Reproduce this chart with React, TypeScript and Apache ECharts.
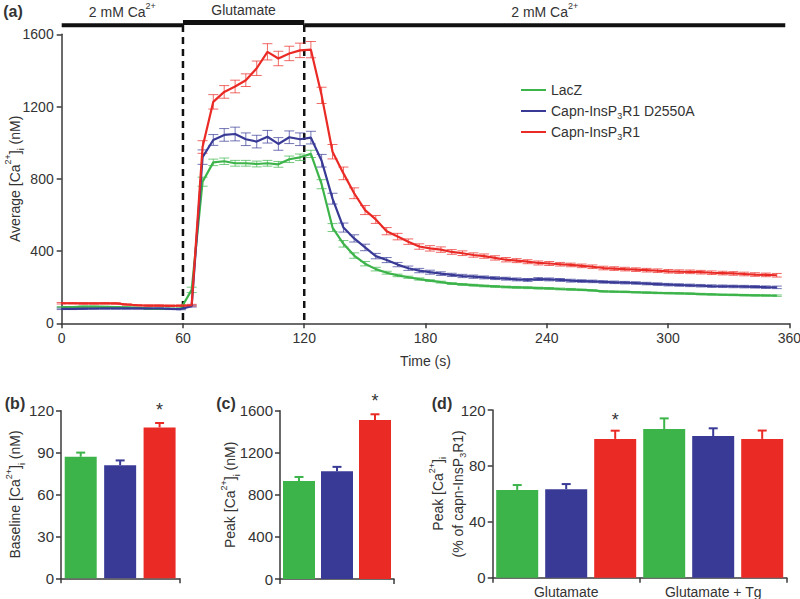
import React, { useEffect, useRef } from 'react';
import * as echarts from 'echarts';

// ---------- data ----------
const time = [0, 5.4, 10.7, 16.1, 21.4, 26.8, 32.2, 37.5, 42.9, 48.2, 53.6, 59.0, 64.3, 69.7, 75.0, 80.4, 85.8, 91.1, 96.5, 101.8, 107.2, 112.6, 117.9, 123.3, 128.6, 134.0, 139.4, 144.7, 150.1, 155.4, 160.8, 166.2, 171.5, 176.9, 182.2, 187.6, 193.0, 198.3, 203.7, 209.0, 214.4, 219.8, 225.1, 230.5, 235.8, 241.2, 246.6, 251.9, 257.3, 262.6, 268.0, 273.4, 278.7, 284.1, 289.4, 294.8, 300.2, 305.5, 310.9, 316.2, 321.6, 327.0, 332.3, 337.7, 343.0, 348.4, 353.8];

const lacz = [90, 90, 92, 92, 91, 90, 88, 86, 81, 80, 80, 82,
  185, 784, 891, 897, 886, 886, 882, 886, 880, 908, 919, 938,
  770, 530, 440, 375, 330, 300, 280, 265, 255, 245, 236, 228,
  220, 215, 211, 207, 204, 201, 199, 197, 195, 193, 190, 188,
  185, 182, 177, 175, 174, 172, 170, 168, 167, 166, 164, 162,
  160, 158, 157, 156, 155, 154, 153];
const laczErr = [3, 3, 3, 3, 3, 3, 3, 3, 3, 3, 3, 3,
  15, 25, 18, 18, 16, 16, 16, 16, 16, 18, 18, 20,
  25, 22, 18, 15, 12, 10, 8, 7, 6, 6, 5, 5,
  5, 5, 5, 5, 5, 5, 5, 5, 5, 5, 5, 5,
  4, 4, 4, 4, 4, 4, 4, 4, 4, 4, 4, 4,
  4, 4, 4, 4, 4, 4, 4];

const d2550a = [80, 80, 81, 82, 83, 83, 83, 83, 82, 82, 80, 79,
  95, 920, 1015, 1043, 1048, 1019, 1006, 1033, 993, 1030, 1019, 1028,
  900, 690, 530, 470, 420, 372, 350, 325, 305, 292, 283, 275,
  268, 262, 258, 254, 250, 247, 243, 240, 245, 243, 240, 236,
  234, 232, 229, 227, 225, 223, 220, 217, 214, 212, 210, 208,
  206, 205, 204, 203, 202, 200, 199];
const d2550aErr = [4, 4, 4, 4, 4, 4, 4, 4, 4, 4, 4, 4,
  5, 40, 30, 35, 38, 35, 35, 35, 35, 35, 35, 35,
  35, 30, 25, 20, 18, 15, 14, 12, 12, 12, 11, 10,
  9, 9, 9, 8, 8, 8, 8, 8, 8, 8, 8, 8,
  7, 7, 7, 7, 7, 7, 7, 7, 7, 7, 7, 7,
  7, 7, 7, 7, 7, 7, 7];

const insp3r1 = [111, 111, 110, 110, 111, 110, 104, 100, 98, 98, 97, 98,
  100, 976, 1226, 1281, 1311, 1346, 1412, 1503, 1466, 1494, 1511, 1515,
  1262, 950, 830, 720, 627, 575, 510, 480, 452, 425, 415, 408,
  395, 388, 378, 372, 362, 352, 347, 341, 334, 331, 327, 323,
  318, 313, 306, 303, 300, 297, 294, 291, 288, 286, 285, 283,
  280, 278, 276, 273, 270, 268, 266];
const insp3r1Err = [4, 4, 4, 4, 4, 4, 4, 4, 4, 4, 4, 4,
  5, 35, 40, 35, 35, 35, 40, 45, 40, 40, 40, 45,
  45, 40, 35, 30, 25, 22, 20, 18, 15, 15, 15, 15,
  13, 13, 12, 12, 12, 12, 11, 11, 11, 11, 10, 10,
  10, 10, 10, 10, 10, 10, 10, 10, 10, 10, 10, 10,
  10, 10, 10, 10, 10, 10, 10];

const seriesNames = ['LacZ', 'Capn-InsP3R1 D2550A', 'Capn-InsP3R1'];

const baselineVals = [87, 81, 108];
const baselineErr = [3, 3.4, 3.2];
const peakVals = [932, 1024, 1511];
const peakErr = [38, 42, 55];
const pctGroups = ['Glutamate', 'Glutamate + Tg'];
const pctVals = [62.8, 63.3, 99.3, 106.4, 101.4, 99.3];
const pctErr = [3.5, 3.7, 5.9, 7.6, 5.5, 6];

const xTicksA = { min: 0, max: 360, interval: 60 };

// ---------- style ----------
const FONT = '"Liberation Sans", Arial, Helvetica, sans-serif';
const TXT = '#333333';
const AX = '#3a3a3a';
const GREEN = '#3cb44a';
const BLUE = '#383a96';
const RED = '#ea2a25';
const COLORS = [GREEN, BLUE, RED];

const richOpt = {
  sup: { fontSize: 9, lineHeight: 8, verticalAlign: 'top', color: TXT, fontFamily: FONT },
  sub: { fontSize: 9, lineHeight: 8, verticalAlign: 'bottom', color: TXT, fontFamily: FONT },
};
const richZr = {
  sup: { fontSize: 9, lineHeight: 8, verticalAlign: 'top', fill: TXT, fontFamily: FONT },
  sub: { fontSize: 9, lineHeight: 8, verticalAlign: 'bottom', fill: TXT, fontFamily: FONT },
};

const axisLine = { show: true, lineStyle: { color: AX, width: 1.5 } };
const axisTick = { show: true, length: 5, inside: false, lineStyle: { color: AX, width: 1.5 } };
const plain = (v: number) => String(v);

function errRenderer(color: string, capHalf: number, lw: number, twoSided: boolean) {
  return (params: any, api: any) => {
    const x = api.value(0);
    const y = api.value(1);
    const e = api.value(2);
    const lo = api.coord([x, twoSided ? y - e : y]);
    const hi = api.coord([x, y + e]);
    const style = { stroke: color, lineWidth: lw };
    const children: any[] = [
      { type: 'line', shape: { x1: lo[0], y1: lo[1], x2: hi[0], y2: hi[1] }, style },
      { type: 'line', shape: { x1: hi[0] - capHalf, y1: hi[1], x2: hi[0] + capHalf, y2: hi[1] }, style },
    ];
    if (twoSided) {
      children.push({ type: 'line', shape: { x1: lo[0] - capHalf, y1: lo[1], x2: lo[0] + capHalf, y2: lo[1] }, style });
    }
    return { type: 'group', children };
  };
}

function buildOption() {
  const lines = [lacz, d2550a, insp3r1];
  const errs = [laczErr, d2550aErr, insp3r1Err];
  const series: any[] = [];
  lines.forEach((vals, si) => {
    series.push({
      type: 'custom',
      xAxisIndex: 0,
      yAxisIndex: 0,
      silent: true,
      z: 2,
      renderItem: errRenderer(echarts.color.modifyAlpha(COLORS[si], 0.7), 5, 1, true),
      encode: { x: 0, y: 1 },
      data: time.map((t, i) => [t, vals[i], errs[si][i]]),
    });
  });
  lines.forEach((vals, si) => {
    series.push({
      type: 'line',
      name: seriesNames[si],
      xAxisIndex: 0,
      yAxisIndex: 0,
      color: COLORS[si],
      symbol: 'none',
      z: 3,
      lineStyle: { width: 2.2, color: COLORS[si] },
      data: time.map((t, i) => [t, vals[i]]),
    });
  });

  const barPanels = [
    { axis: 1, vals: baselineVals, errs: baselineErr, width: 32 },
    { axis: 2, vals: peakVals, errs: peakErr, width: 32 },
    { axis: 3, vals: pctVals, errs: pctErr, width: 42 },
  ];
  barPanels.forEach((p) => {
    series.push({
      type: 'bar',
      xAxisIndex: p.axis,
      yAxisIndex: p.axis,
      barWidth: p.width,
      data: p.vals.map((v, i) => ({ value: [i + 0.5, v], itemStyle: { color: COLORS[i % 3] } })),
    });
    p.vals.forEach((v, i) => {
      series.push({
        type: 'custom',
        xAxisIndex: p.axis,
        yAxisIndex: p.axis,
        silent: true,
        z: 3,
        renderItem: errRenderer(COLORS[i % 3], 4.5, 2, false),
        encode: { x: 0, y: 1 },
        data: [[i + 0.5, v, p.errs[i]]],
      });
    });
  });

  const nameStyle = { fontSize: 14, lineHeight: 22, color: TXT, fontFamily: FONT, rich: richOpt };
  const labelA = { fontSize: 14, color: TXT, fontFamily: FONT, margin: 8, formatter: plain };
  const labelB = { fontSize: 15, color: TXT, fontFamily: FONT, margin: 7, formatter: plain };

  return {
    animation: false,
    backgroundColor: '#ffffff',
    textStyle: { fontFamily: FONT },
    grid: [
      { left: 61.7, top: 34.3, width: 727.6, height: 289, outerBoundsMode: 'none', containLabel: false },
      { left: 61, top: 410.7, width: 118.3, height: 167.6, outerBoundsMode: 'none', containLabel: false },
      { left: 280, top: 410.7, width: 114, height: 168.3, outerBoundsMode: 'none', containLabel: false },
      { left: 492.7, top: 410, width: 294, height: 167.7, outerBoundsMode: 'none', containLabel: false },
    ],
    legend: {
      data: seriesNames.map((n) => ({ name: n, icon: 'rect' })),
      orient: 'vertical',
      left: 521,
      top: 81,
      itemWidth: 25,
      itemHeight: 2,
      itemGap: 3,
      padding: 0,
      selectedMode: false,
      formatter: (n: string) => n.replace('InsP3R1', 'InsP{sub|3}R1'),
      textStyle: { fontSize: 14, lineHeight: 18, color: TXT, fontFamily: FONT, rich: richOpt },
    },
    xAxis: [
      {
        type: 'value', gridIndex: 0, ...xTicksA,
        axisLine, axisTick, splitLine: { show: false },
        axisLabel: labelA,
        name: 'Time (s)', nameLocation: 'middle', nameGap: 31, nameMoveOverlap: false,
        nameTextStyle: { fontSize: 14, color: TXT, fontFamily: FONT },
      },
      {
        type: 'value', gridIndex: 1, min: 0, max: 3, interval: 3,
        axisLine, axisTick, splitLine: { show: false }, axisLabel: { show: false },
      },
      {
        type: 'value', gridIndex: 2, min: 0, max: 3, interval: 3,
        axisLine, axisTick, splitLine: { show: false }, axisLabel: { show: false },
      },
      {
        type: 'value', gridIndex: 3, min: 0, max: 6, interval: 3,
        axisLine, axisTick, splitLine: { show: false }, axisLabel: { show: false },
      },
      {
        type: 'category', gridIndex: 3, data: pctGroups, position: 'bottom', offset: 0,
        axisLine: { show: false }, axisTick: { show: false }, splitLine: { show: false },
        axisLabel: { fontSize: 14, color: TXT, fontFamily: FONT, margin: 7 },
      },
    ],
    yAxis: [
      {
        type: 'value', gridIndex: 0, min: 0, max: 1600, interval: 400,
        axisLine, axisTick, splitLine: { show: false }, axisLabel: labelA,
        name: 'Average [Ca{sup|2+}]{sub|i} (nM)', nameLocation: 'middle', nameGap: 36, nameMoveOverlap: false,
        nameTextStyle: nameStyle,
      },
      {
        type: 'value', gridIndex: 1, min: 0, max: 120, interval: 30,
        axisLine, axisTick, splitLine: { show: false }, axisLabel: labelB,
        name: 'Baseline [Ca{sup|2+}]{sub|i} (nM)', nameLocation: 'middle', nameGap: 35, nameMoveOverlap: false,
        nameTextStyle: nameStyle,
      },
      {
        type: 'value', gridIndex: 2, min: 0, max: 1600, interval: 400,
        axisLine, axisTick, splitLine: { show: false }, axisLabel: labelB,
        name: 'Peak [Ca{sup|2+}]{sub|i} (nM)', nameLocation: 'middle', nameGap: 39, nameMoveOverlap: false,
        nameTextStyle: nameStyle,
      },
      {
        type: 'value', gridIndex: 3, min: 0, max: 120, interval: 40,
        axisLine, axisTick, splitLine: { show: false }, axisLabel: labelB,
        name: 'Peak [Ca{sup|2+}]{sub|i}\n(% of capn-InsP{sub|3}R1)', nameLocation: 'middle', nameGap: 25, nameMoveOverlap: false,
        nameTextStyle: { ...nameStyle, lineHeight: 20 },
      },
    ],
    series,
  };
}

export default function App() {
  const ref = useRef<HTMLDivElement>(null);
  useEffect(() => {
    const chart = echarts.init(ref.current!, null, { renderer: 'svg' });
    chart.setOption(buildOption() as any);

    const px = (t: number) => chart.convertToPixel({ xAxisIndex: 0 }, t) as unknown as number;
    const py = (v: number) => chart.convertToPixel({ yAxisIndex: 0 }, v) as unknown as number;
    const pb = (axis: number, x: number, y: number) =>
      chart.convertToPixel({ xAxisIndex: axis, yAxisIndex: axis }, [x, y]) as unknown as number[];

    const txt = (x: number, y: number, text: string, extra: any = {}) => ({
      type: 'text', x, y, silent: true,
      style: {
        text, fill: TXT, fontSize: 14, fontFamily: FONT, align: 'center', verticalAlign: 'middle',
        rich: richZr, lineHeight: 22, ...extra,
      },
    });
    const bar = (x1: number, x2: number, y: number, w: number) => ({
      type: 'line', silent: true, shape: { x1, y1: y, x2, y2: y }, style: { stroke: '#111', lineWidth: w },
    });
    const dash = (x: number) => ({
      type: 'line', silent: true,
      shape: { x1: x, y1: 25, x2: x, y2: py(0) },
      style: { stroke: '#111', lineWidth: 2.5, lineDash: [7, 5] },
    });

    const sb = pb(1, 2.5, baselineVals[2] + baselineErr[2]);
    const sc = pb(2, 2.5, peakVals[2] + peakErr[2]);
    const sd = pb(3, 2.5, pctVals[2] + pctErr[2]);

    chart.setOption({
      graphic: [
        bar(px(0), px(60), 25.3, 4),
        bar(px(60), px(120), 22.5, 5),
        bar(px(120), px(358), 25.3, 4),
        dash(px(60)),
        dash(px(120)),
        txt(px(30), 12, '2 mM Ca{sup|2+}'),
        txt(px(90), 10, 'Glutamate'),
        txt(px(239), 12, '2 mM Ca{sup|2+}'),
        txt(13, 11, '(a)', { fontSize: 16, fontWeight: 'bold' }),
        txt(15, 403, '(b)', { fontSize: 16, fontWeight: 'bold' }),
        txt(226, 403, '(c)', { fontSize: 16, fontWeight: 'bold' }),
        txt(442, 403, '(d)', { fontSize: 16, fontWeight: 'bold' }),
        txt(sb[0], sb[1] - 13, '*', { fontSize: 18 }),
        txt(sc[0], sc[1] - 13, '*', { fontSize: 18 }),
        txt(sd[0], sd[1] - 11, '*', { fontSize: 18 }),
      ],
    } as any);

    return () => chart.dispose();
  }, []);
  return (
    <div
      ref={ref}
      style={{ position: 'fixed', left: 0, top: 0, width: 800, height: 599, background: '#fff' }}
    />
  );
}
